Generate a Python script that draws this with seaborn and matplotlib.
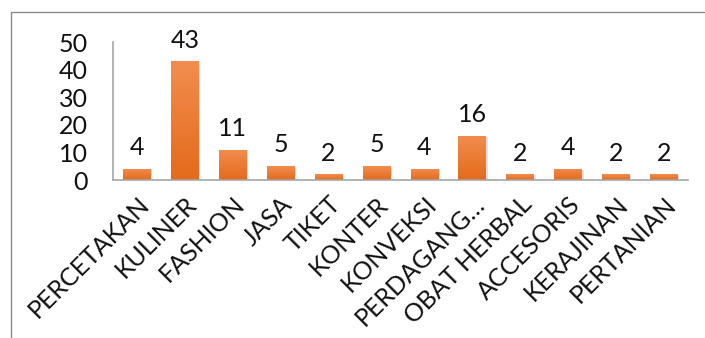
import matplotlib
matplotlib.use("Agg")
import matplotlib.pyplot as plt
import seaborn as sns
import numpy as np
import pandas as pd
from matplotlib.patches import Rectangle
from matplotlib.colors import LinearSegmentedColormap

categories = ["PERCETAKAN", "KULINER", "FASHION", "JASA", "TIKET", "KONTER",
              "KONVEKSI", "PERDAGANG…", "OBAT HERBAL", "ACCESORIS", "KERAJINAN", "PERTANIAN"]
values = [4, 43, 11, 5, 2, 5, 4, 16, 2, 4, 2, 2]
yticks = [0, 10, 20, 30, 40, 50]

sns.set_theme(style="white")
plt.rcParams['font.family'] = ['Lato', 'DejaVu Sans']

df = pd.DataFrame({"cat": categories, "val": values})

fig = plt.figure(figsize=(7.05, 3.38), dpi=100)
ax = fig.add_axes([113/705, 1-180/338, (688-113)/705, (180-42)/338])
sns.barplot(data=df, x="cat", y="val", ax=ax, color="#EE7D31", width=0.58,
            saturation=1, edgecolor="none")

ax.set_ylim(0, 50)
ax.set_yticks(yticks)
ax.set_xlabel("")
ax.set_ylabel("")

grad = np.linspace(0, 1, 256).reshape(-1, 1)
cmap = LinearSegmentedColormap.from_list("g", ["#E46A1B", "#F28D4F"])
for p in ax.patches:
    x0, y0 = p.get_x(), p.get_y()
    w, h = p.get_width(), p.get_height()
    sh = Rectangle((x0 + 0.03, y0), w, h - 0.3, facecolor="#000000", alpha=0.12,
                   edgecolor="none", zorder=p.get_zorder() - 0.1)
    ax.add_patch(sh)
    im = ax.imshow(grad, extent=[x0, x0 + w, y0, y0 + h], origin="lower",
                   cmap=cmap, aspect="auto", zorder=p.get_zorder() + 0.1)
    im.set_clip_path(p)
ax.set_xlim(-0.5, len(categories) - 0.5)
ax.set_ylim(0, 50)

for i, v in enumerate(values):
    ax.annotate(str(v), (i, v), xytext=(0, 7), textcoords="offset points",
                ha="center", va="bottom", fontsize=18, color="#111111")

ax.tick_params(axis="y", length=0, labelsize=18, pad=18, colors="#111111")
ax.tick_params(axis="x", length=0, labelsize=18, pad=9, colors="#111111")
plt.setp(ax.get_xticklabels(), rotation=45, ha="right", rotation_mode="anchor")

for s in ["top", "right"]:
    ax.spines[s].set_visible(False)
for s in ["left", "bottom"]:
    ax.spines[s].set_color("#A6A6A6")
    ax.spines[s].set_linewidth(1.2)
ax.grid(False)

border = Rectangle((11/705, -0.1), 1.0, 1 - 12/338 + 0.1, transform=fig.transFigure,
                   facecolor="none", edgecolor="#8C8C8C", linewidth=1.0)
fig.patches.append(border)

fig.savefig("out.png", dpi=100)
